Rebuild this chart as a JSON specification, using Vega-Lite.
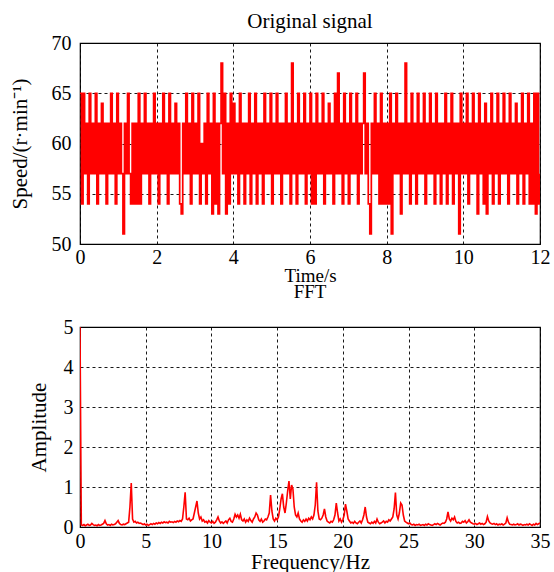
{
"$schema": "https://vega.github.io/schema/vega-lite/v6.json",
"padding": {"left": 8, "top": 10, "right": 5, "bottom": 0},
"background": "white",
"bounds": "flush",
"spacing": 83,
"config": {
  "font": "Liberation Serif",
  "view": {"stroke": "black", "strokeWidth": 1.2},
  "axis": {"grid": true, "gridColor": "black", "gridDash": [3, 3], "gridWidth": 1, "gridOpacity": 0.9, "domain": false, "ticks": false, "labelFont": "Liberation Serif", "labelFontSize": 20, "labelColor": "black", "labelFlush": false, "labelOverlap": false, "labelBound": false, "titleFont": "Liberation Serif", "titleFontSize": 21, "titleFontWeight": "normal", "titleColor": "black"},
  "title": {"font": "Liberation Serif", "fontSize": 21, "fontWeight": "normal", "color": "black"}
},
"datasets": {
"signal": [
{"t":0,"v":65},{"t":0.04,"v":54},{"t":0.08,"v":65},{"t":0.12,"v":57},{"t":0.16,"v":62},{"t":0.2,"v":54},{"t":0.24,"v":65},{"t":0.28,"v":57},{"t":0.32,"v":62},{"t":0.36,"v":57},{"t":0.4,"v":65},{"t":0.44,"v":54},{"t":0.48,"v":62},{"t":0.52,"v":57},{"t":0.56,"v":64},{"t":0.6,"v":57},{"t":0.64,"v":62},{"t":0.68,"v":54},{"t":0.72,"v":62},{"t":0.76,"v":57},{"t":0.8,"v":65},{"t":0.84,"v":57},{"t":0.88,"v":62},{"t":0.92,"v":54},{"t":0.96,"v":65},
{"t":1,"v":57},{"t":1.04,"v":62},{"t":1.08,"v":57},{"t":1.12,"v":51},{"t":1.16,"v":62},{"t":1.2,"v":57},{"t":1.24,"v":65},{"t":1.28,"v":57},{"t":1.32,"v":54},{"t":1.36,"v":62},{"t":1.4,"v":54},{"t":1.44,"v":62},{"t":1.48,"v":54},{"t":1.52,"v":65},{"t":1.56,"v":54},{"t":1.6,"v":62},{"t":1.64,"v":57},{"t":1.68,"v":65},{"t":1.72,"v":57},{"t":1.76,"v":62},{"t":1.8,"v":54},{"t":1.84,"v":62},{"t":1.88,"v":57},{"t":1.92,"v":65},{"t":1.96,"v":57},
{"t":2,"v":62},{"t":2.04,"v":54},{"t":2.08,"v":62},{"t":2.12,"v":57},{"t":2.16,"v":65},{"t":2.2,"v":57},{"t":2.24,"v":62},{"t":2.28,"v":54},{"t":2.32,"v":65},{"t":2.36,"v":57},{"t":2.4,"v":62},{"t":2.44,"v":57},{"t":2.48,"v":64},{"t":2.52,"v":57},{"t":2.56,"v":62},{"t":2.6,"v":54},{"t":2.64,"v":53},{"t":2.68,"v":62},{"t":2.72,"v":57},{"t":2.76,"v":65},{"t":2.8,"v":57},{"t":2.84,"v":62},{"t":2.88,"v":54},{"t":2.92,"v":65},{"t":2.96,"v":57},
{"t":3,"v":62},{"t":3.04,"v":57},{"t":3.08,"v":65},{"t":3.12,"v":54},{"t":3.16,"v":60},{"t":3.2,"v":57},{"t":3.24,"v":62},{"t":3.28,"v":54},{"t":3.32,"v":65},{"t":3.36,"v":57},{"t":3.4,"v":62},{"t":3.44,"v":53},{"t":3.48,"v":65},{"t":3.52,"v":54},{"t":3.56,"v":62},{"t":3.6,"v":53},{"t":3.64,"v":62},{"t":3.68,"v":68},{"t":3.72,"v":57},{"t":3.76,"v":65},{"t":3.8,"v":53},{"t":3.84,"v":62},{"t":3.88,"v":54},{"t":3.92,"v":65},{"t":3.96,"v":57},
{"t":4,"v":64},{"t":4.04,"v":57},{"t":4.08,"v":62},{"t":4.12,"v":54},{"t":4.16,"v":65},{"t":4.2,"v":57},{"t":4.24,"v":62},{"t":4.28,"v":54},{"t":4.32,"v":62},{"t":4.36,"v":57},{"t":4.4,"v":65},{"t":4.44,"v":54},{"t":4.48,"v":62},{"t":4.52,"v":57},{"t":4.56,"v":65},{"t":4.6,"v":54},{"t":4.64,"v":62},{"t":4.68,"v":57},{"t":4.72,"v":62},{"t":4.76,"v":54},{"t":4.8,"v":65},{"t":4.84,"v":57},{"t":4.88,"v":62},{"t":4.92,"v":57},{"t":4.96,"v":65},
{"t":5,"v":54},{"t":5.04,"v":62},{"t":5.08,"v":57},{"t":5.12,"v":65},{"t":5.16,"v":57},{"t":5.2,"v":62},{"t":5.24,"v":54},{"t":5.28,"v":62},{"t":5.32,"v":57},{"t":5.36,"v":65},{"t":5.4,"v":57},{"t":5.44,"v":62},{"t":5.48,"v":54},{"t":5.52,"v":68},{"t":5.56,"v":57},{"t":5.6,"v":62},{"t":5.64,"v":54},{"t":5.68,"v":65},{"t":5.72,"v":57},{"t":5.76,"v":62},{"t":5.8,"v":57},{"t":5.84,"v":65},{"t":5.88,"v":54},{"t":5.92,"v":62},{"t":5.96,"v":57},
{"t":6,"v":65},{"t":6.04,"v":54},{"t":6.08,"v":62},{"t":6.12,"v":54},{"t":6.16,"v":65},{"t":6.2,"v":57},{"t":6.24,"v":62},{"t":6.28,"v":57},{"t":6.32,"v":65},{"t":6.36,"v":54},{"t":6.4,"v":62},{"t":6.44,"v":57},{"t":6.48,"v":64},{"t":6.52,"v":57},{"t":6.56,"v":62},{"t":6.6,"v":54},{"t":6.64,"v":65},{"t":6.68,"v":57},{"t":6.72,"v":67},{"t":6.76,"v":57},{"t":6.8,"v":62},{"t":6.84,"v":54},{"t":6.88,"v":65},{"t":6.92,"v":57},{"t":6.96,"v":62},
{"t":7,"v":54},{"t":7.04,"v":65},{"t":7.08,"v":57},{"t":7.12,"v":62},{"t":7.16,"v":57},{"t":7.2,"v":65},{"t":7.24,"v":54},{"t":7.28,"v":62},{"t":7.32,"v":57},{"t":7.36,"v":62},{"t":7.4,"v":67},{"t":7.44,"v":57},{"t":7.48,"v":62},{"t":7.52,"v":54},{"t":7.56,"v":51},{"t":7.6,"v":62},{"t":7.64,"v":57},{"t":7.68,"v":65},{"t":7.72,"v":57},{"t":7.76,"v":62},{"t":7.8,"v":54},{"t":7.84,"v":65},{"t":7.88,"v":54},{"t":7.92,"v":62},{"t":7.96,"v":54},
{"t":8,"v":62},{"t":8.04,"v":54},{"t":8.08,"v":65},{"t":8.12,"v":51},{"t":8.16,"v":62},{"t":8.2,"v":57},{"t":8.24,"v":65},{"t":8.28,"v":57},{"t":8.32,"v":62},{"t":8.36,"v":53},{"t":8.4,"v":62},{"t":8.44,"v":57},{"t":8.48,"v":68},{"t":8.52,"v":57},{"t":8.56,"v":62},{"t":8.6,"v":54},{"t":8.64,"v":65},{"t":8.68,"v":57},{"t":8.72,"v":62},{"t":8.76,"v":54},{"t":8.8,"v":65},{"t":8.84,"v":57},{"t":8.88,"v":62},{"t":8.92,"v":57},{"t":8.96,"v":65},
{"t":9,"v":54},{"t":9.04,"v":62},{"t":9.08,"v":57},{"t":9.12,"v":65},{"t":9.16,"v":57},{"t":9.2,"v":62},{"t":9.24,"v":54},{"t":9.28,"v":65},{"t":9.32,"v":57},{"t":9.36,"v":62},{"t":9.4,"v":54},{"t":9.44,"v":62},{"t":9.48,"v":57},{"t":9.52,"v":65},{"t":9.56,"v":54},{"t":9.6,"v":62},{"t":9.64,"v":57},{"t":9.68,"v":65},{"t":9.72,"v":54},{"t":9.76,"v":62},{"t":9.8,"v":57},{"t":9.84,"v":62},{"t":9.88,"v":51},{"t":9.92,"v":65},{"t":9.96,"v":57},
{"t":10,"v":62},{"t":10.04,"v":57},{"t":10.08,"v":65},{"t":10.12,"v":54},{"t":10.16,"v":62},{"t":10.2,"v":57},{"t":10.24,"v":65},{"t":10.28,"v":57},{"t":10.32,"v":62},{"t":10.36,"v":53},{"t":10.4,"v":65},{"t":10.44,"v":57},{"t":10.48,"v":62},{"t":10.52,"v":54},{"t":10.56,"v":64},{"t":10.6,"v":53},{"t":10.64,"v":62},{"t":10.68,"v":57},{"t":10.72,"v":65},{"t":10.76,"v":54},{"t":10.8,"v":62},{"t":10.84,"v":57},{"t":10.88,"v":65},{"t":10.92,"v":54},{"t":10.96,"v":62},
{"t":11,"v":57},{"t":11.04,"v":65},{"t":11.08,"v":57},{"t":11.12,"v":62},{"t":11.16,"v":54},{"t":11.2,"v":65},{"t":11.24,"v":57},{"t":11.28,"v":62},{"t":11.32,"v":57},{"t":11.36,"v":64},{"t":11.4,"v":54},{"t":11.44,"v":62},{"t":11.48,"v":57},{"t":11.52,"v":65},{"t":11.56,"v":54},{"t":11.6,"v":62},{"t":11.64,"v":57},{"t":11.68,"v":65},{"t":11.72,"v":54},{"t":11.76,"v":62},{"t":11.8,"v":54},{"t":11.84,"v":65},{"t":11.88,"v":53},{"t":11.92,"v":65},{"t":11.96,"v":54},
{"t":12,"v":57}
],
"fft": [
{"f":0,"a":5},{"f":0.1,"a":0.05},{"f":0.2,"a":0.04},{"f":0.3,"a":0.06},{"f":0.4,"a":0.03},{"f":0.5,"a":0.05},{"f":0.6,"a":0.07},{"f":0.7,"a":0.04},{"f":0.8,"a":0.05},{"f":0.9,"a":0.09},
{"f":1,"a":0.06},{"f":1.1,"a":0.04},{"f":1.2,"a":0.05},{"f":1.3,"a":0.03},{"f":1.4,"a":0.06},{"f":1.5,"a":0.04},{"f":1.6,"a":0.05},{"f":1.7,"a":0.07},{"f":1.8,"a":0.09},{"f":1.9,"a":0.16},
{"f":2,"a":0.08},{"f":2.1,"a":0.05},{"f":2.2,"a":0.06},{"f":2.3,"a":0.04},{"f":2.4,"a":0.07},{"f":2.5,"a":0.05},{"f":2.6,"a":0.06},{"f":2.7,"a":0.08},{"f":2.8,"a":0.12},{"f":2.9,"a":0.16},
{"f":3,"a":0.09},{"f":3.1,"a":0.06},{"f":3.2,"a":0.05},{"f":3.3,"a":0.07},{"f":3.4,"a":0.06},{"f":3.5,"a":0.08},{"f":3.6,"a":0.1},{"f":3.7,"a":0.12},{"f":3.8,"a":0.5},{"f":3.9,"a":1.1},
{"f":4,"a":0.2},{"f":4.1,"a":0.12},{"f":4.2,"a":0.14},{"f":4.3,"a":0.1},{"f":4.4,"a":0.12},{"f":4.5,"a":0.09},{"f":4.6,"a":0.1},{"f":4.7,"a":0.08},{"f":4.8,"a":0.06},{"f":4.9,"a":0.08},
{"f":5,"a":0.05},{"f":5.1,"a":0.07},{"f":5.2,"a":0.04},{"f":5.3,"a":0.06},{"f":5.4,"a":0.08},{"f":5.5,"a":0.06},{"f":5.6,"a":0.09},{"f":5.7,"a":0.07},{"f":5.8,"a":0.1},{"f":5.9,"a":0.08},
{"f":6,"a":0.11},{"f":6.1,"a":0.09},{"f":6.2,"a":0.12},{"f":6.3,"a":0.1},{"f":6.4,"a":0.13},{"f":6.5,"a":0.11},{"f":6.6,"a":0.12},{"f":6.7,"a":0.1},{"f":6.8,"a":0.14},{"f":6.9,"a":0.12},
{"f":7,"a":0.13},{"f":7.1,"a":0.11},{"f":7.2,"a":0.14},{"f":7.3,"a":0.12},{"f":7.4,"a":0.15},{"f":7.5,"a":0.13},{"f":7.6,"a":0.16},{"f":7.7,"a":0.14},{"f":7.8,"a":0.2},{"f":7.9,"a":0.5},
{"f":8,"a":0.87},{"f":8.1,"a":0.2},{"f":8.2,"a":0.18},{"f":8.3,"a":0.22},{"f":8.4,"a":0.15},{"f":8.5,"a":0.18},{"f":8.6,"a":0.2},{"f":8.7,"a":0.35},{"f":8.8,"a":0.5},{"f":8.9,"a":0.65},
{"f":9,"a":0.35},{"f":9.1,"a":0.2},{"f":9.2,"a":0.25},{"f":9.3,"a":0.15},{"f":9.4,"a":0.18},{"f":9.5,"a":0.12},{"f":9.6,"a":0.14},{"f":9.7,"a":0.1},{"f":9.8,"a":0.16},{"f":9.9,"a":0.12},
{"f":10,"a":0.1},{"f":10.1,"a":0.14},{"f":10.2,"a":0.09},{"f":10.3,"a":0.12},{"f":10.4,"a":0.18},{"f":10.5,"a":0.25},{"f":10.6,"a":0.15},{"f":10.7,"a":0.1},{"f":10.8,"a":0.13},{"f":10.9,"a":0.09},
{"f":11,"a":0.12},{"f":11.1,"a":0.15},{"f":11.2,"a":0.1},{"f":11.3,"a":0.18},{"f":11.4,"a":0.22},{"f":11.5,"a":0.14},{"f":11.6,"a":0.12},{"f":11.7,"a":0.2},{"f":11.8,"a":0.32},{"f":11.9,"a":0.25},
{"f":12,"a":0.3},{"f":12.1,"a":0.22},{"f":12.2,"a":0.32},{"f":12.3,"a":0.18},{"f":12.4,"a":0.15},{"f":12.5,"a":0.2},{"f":12.6,"a":0.12},{"f":12.7,"a":0.18},{"f":12.8,"a":0.14},{"f":12.9,"a":0.22},
{"f":13,"a":0.16},{"f":13.1,"a":0.12},{"f":13.2,"a":0.2},{"f":13.3,"a":0.25},{"f":13.4,"a":0.35},{"f":13.5,"a":0.3},{"f":13.6,"a":0.18},{"f":13.7,"a":0.14},{"f":13.8,"a":0.2},{"f":13.9,"a":0.12},
{"f":14,"a":0.15},{"f":14.1,"a":0.2},{"f":14.2,"a":0.18},{"f":14.3,"a":0.25},{"f":14.4,"a":0.35},{"f":14.5,"a":0.8},{"f":14.6,"a":0.4},{"f":14.7,"a":0.2},{"f":14.8,"a":0.15},{"f":14.9,"a":0.22},
{"f":15,"a":0.18},{"f":15.1,"a":0.25},{"f":15.2,"a":0.45},{"f":15.3,"a":0.7},{"f":15.4,"a":0.83},{"f":15.5,"a":0.5},{"f":15.6,"a":0.35},{"f":15.7,"a":0.6},{"f":15.8,"a":0.9},{"f":15.9,"a":1.15},
{"f":16,"a":0.7},{"f":16.1,"a":1.05},{"f":16.2,"a":0.95},{"f":16.3,"a":0.5},{"f":16.4,"a":0.3},{"f":16.5,"a":0.25},{"f":16.6,"a":0.35},{"f":16.7,"a":0.2},{"f":16.8,"a":0.15},{"f":16.9,"a":0.12},
{"f":17,"a":0.18},{"f":17.1,"a":0.14},{"f":17.2,"a":0.2},{"f":17.3,"a":0.15},{"f":17.4,"a":0.22},{"f":17.5,"a":0.18},{"f":17.6,"a":0.25},{"f":17.7,"a":0.2},{"f":17.8,"a":0.3},{"f":17.9,"a":0.55},
{"f":18,"a":1.12},{"f":18.1,"a":0.4},{"f":18.2,"a":0.2},{"f":18.3,"a":0.18},{"f":18.4,"a":0.22},{"f":18.5,"a":0.3},{"f":18.6,"a":0.45},{"f":18.7,"a":0.25},{"f":18.8,"a":0.15},{"f":18.9,"a":0.12},
{"f":19,"a":0.1},{"f":19.1,"a":0.14},{"f":19.2,"a":0.12},{"f":19.3,"a":0.18},{"f":19.4,"a":0.3},{"f":19.5,"a":0.6},{"f":19.6,"a":0.35},{"f":19.7,"a":0.15},{"f":19.8,"a":0.2},{"f":19.9,"a":0.12},
{"f":20,"a":0.18},{"f":20.1,"a":0.3},{"f":20.2,"a":0.57},{"f":20.3,"a":0.4},{"f":20.4,"a":0.2},{"f":20.5,"a":0.15},{"f":20.6,"a":0.1},{"f":20.7,"a":0.12},{"f":20.8,"a":0.09},{"f":20.9,"a":0.14},
{"f":21,"a":0.1},{"f":21.1,"a":0.08},{"f":21.2,"a":0.12},{"f":21.3,"a":0.15},{"f":21.4,"a":0.1},{"f":21.5,"a":0.18},{"f":21.6,"a":0.3},{"f":21.7,"a":0.5},{"f":21.8,"a":0.25},{"f":21.9,"a":0.12},
{"f":22,"a":0.1},{"f":22.1,"a":0.08},{"f":22.2,"a":0.12},{"f":22.3,"a":0.09},{"f":22.4,"a":0.14},{"f":22.5,"a":0.1},{"f":22.6,"a":0.2},{"f":22.7,"a":0.12},{"f":22.8,"a":0.08},{"f":22.9,"a":0.1},
{"f":23,"a":0.12},{"f":23.1,"a":0.15},{"f":23.2,"a":0.1},{"f":23.3,"a":0.14},{"f":23.4,"a":0.12},{"f":23.5,"a":0.18},{"f":23.6,"a":0.15},{"f":23.7,"a":0.2},{"f":23.8,"a":0.25},{"f":23.9,"a":0.45},
{"f":24,"a":0.86},{"f":24.1,"a":0.3},{"f":24.2,"a":0.2},{"f":24.3,"a":0.35},{"f":24.4,"a":0.6},{"f":24.5,"a":0.55},{"f":24.6,"a":0.3},{"f":24.7,"a":0.15},{"f":24.8,"a":0.12},{"f":24.9,"a":0.1},
{"f":25,"a":0.08},{"f":25.1,"a":0.1},{"f":25.2,"a":0.06},{"f":25.3,"a":0.05},{"f":25.4,"a":0.07},{"f":25.5,"a":0.04},{"f":25.6,"a":0.06},{"f":25.7,"a":0.05},{"f":25.8,"a":0.07},{"f":25.9,"a":0.04},
{"f":26,"a":0.05},{"f":26.1,"a":0.06},{"f":26.2,"a":0.04},{"f":26.3,"a":0.07},{"f":26.4,"a":0.05},{"f":26.5,"a":0.08},{"f":26.6,"a":0.06},{"f":26.7,"a":0.05},{"f":26.8,"a":0.04},{"f":26.9,"a":0.06},
{"f":27,"a":0.08},{"f":27.1,"a":0.06},{"f":27.2,"a":0.09},{"f":27.3,"a":0.07},{"f":27.4,"a":0.05},{"f":27.5,"a":0.08},{"f":27.6,"a":0.1},{"f":27.7,"a":0.09},{"f":27.8,"a":0.12},{"f":27.9,"a":0.2},
{"f":28,"a":0.38},{"f":28.1,"a":0.2},{"f":28.2,"a":0.15},{"f":28.3,"a":0.22},{"f":28.4,"a":0.18},{"f":28.5,"a":0.25},{"f":28.6,"a":0.14},{"f":28.7,"a":0.1},{"f":28.8,"a":0.12},{"f":28.9,"a":0.09},
{"f":29,"a":0.1},{"f":29.1,"a":0.14},{"f":29.2,"a":0.12},{"f":29.3,"a":0.16},{"f":29.4,"a":0.1},{"f":29.5,"a":0.13},{"f":29.6,"a":0.18},{"f":29.7,"a":0.12},{"f":29.8,"a":0.1},{"f":29.9,"a":0.08},
{"f":30,"a":0.07},{"f":30.1,"a":0.09},{"f":30.2,"a":0.06},{"f":30.3,"a":0.08},{"f":30.4,"a":0.1},{"f":30.5,"a":0.07},{"f":30.6,"a":0.09},{"f":30.7,"a":0.06},{"f":30.8,"a":0.08},{"f":30.9,"a":0.12},
{"f":31,"a":0.26},{"f":31.1,"a":0.15},{"f":31.2,"a":0.1},{"f":31.3,"a":0.08},{"f":31.4,"a":0.07},{"f":31.5,"a":0.09},{"f":31.6,"a":0.06},{"f":31.7,"a":0.08},{"f":31.8,"a":0.05},{"f":31.9,"a":0.07},
{"f":32,"a":0.06},{"f":32.1,"a":0.08},{"f":32.2,"a":0.05},{"f":32.3,"a":0.07},{"f":32.4,"a":0.1},{"f":32.5,"a":0.23},{"f":32.6,"a":0.12},{"f":32.7,"a":0.07},{"f":32.8,"a":0.06},{"f":32.9,"a":0.05},
{"f":33,"a":0.07},{"f":33.1,"a":0.05},{"f":33.2,"a":0.06},{"f":33.3,"a":0.08},{"f":33.4,"a":0.05},{"f":33.5,"a":0.07},{"f":33.6,"a":0.06},{"f":33.7,"a":0.04},{"f":33.8,"a":0.06},{"f":33.9,"a":0.05},
{"f":34,"a":0.07},{"f":34.1,"a":0.05},{"f":34.2,"a":0.08},{"f":34.3,"a":0.06},{"f":34.4,"a":0.04},{"f":34.5,"a":0.07},{"f":34.6,"a":0.05},{"f":34.7,"a":0.09},{"f":34.8,"a":0.06},{"f":34.9,"a":0.08},{"f":35,"a":0.1}
]
},
"vconcat": [
{
  "width": 460, "height": 201,
  "title": {"text": "Original signal", "offset": 1},
  "data": {"name": "signal"},
  "mark": {"type": "line", "interpolate": "step-after", "color": "#ff0000", "strokeWidth": 1.7, "clip": true},
  "encoding": {
    "x": {"field": "t", "type": "quantitative", "scale": {"domain": [0, 12], "nice": false, "zero": false}, "axis": {"title": "Time/s", "values": [0, 2, 4, 6, 8, 10, 12], "labelPadding": 3, "titlePadding": -1, "titleFontSize": 19}},
    "y": {"field": "v", "type": "quantitative", "scale": {"domain": [50, 70], "nice": false, "zero": false}, "axis": {"title": "Speed/(r·min⁻¹)", "values": [50, 55, 60, 65, 70], "labelPadding": 9, "titlePadding": 21}}
  }
},
{
  "width": 460, "height": 200,
  "title": {"text": "FFT", "offset": 15, "fontSize": 19},
  "data": {"name": "fft"},
  "mark": {"type": "line", "color": "#ff0000", "strokeWidth": 1.6, "clip": true},
  "encoding": {
    "x": {"field": "f", "type": "quantitative", "scale": {"domain": [0, 35], "nice": false, "zero": false}, "axis": {"title": "Frequency/Hz", "values": [0, 5, 10, 15, 20, 25, 30, 35], "labelPadding": 4, "titlePadding": 0}},
    "y": {"field": "a", "type": "quantitative", "scale": {"domain": [0, 5], "nice": false}, "axis": {"title": "Amplitude", "values": [0, 1, 2, 3, 4, 5], "labelPadding": 7, "titlePadding": 14}}
  }
}
]
}
